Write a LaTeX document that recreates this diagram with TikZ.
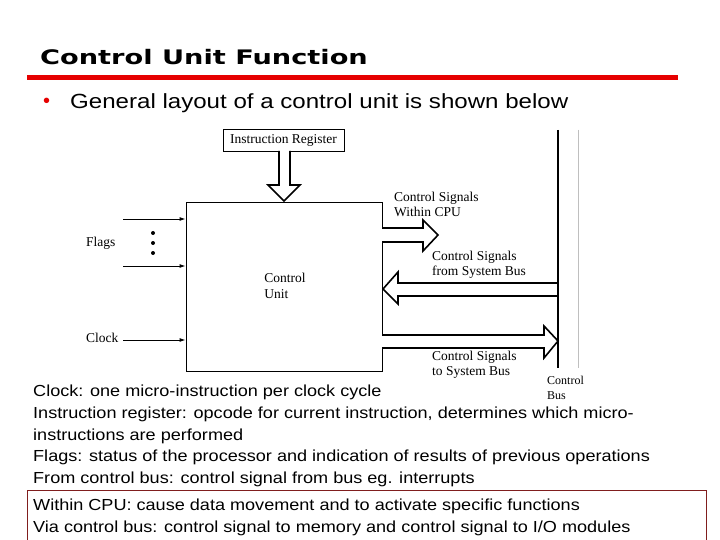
\documentclass[tikz,border=0pt]{standalone}
\usepackage{fontspec}
\usepackage{graphicx}
\setmainfont{Liberation Serif}
\newfontfamily\bodyf{Liberation Sans}
\newfontfamily\titlef{DejaVu Sans}
\usetikzlibrary{arrows.meta}
\definecolor{redline}{RGB}{230,0,0}
\definecolor{boxred}{RGB}{128,30,30}
\newcommand{\bx}[1]{\scalebox{1.13}[1]{#1}}
\tikzset{
  dlab/.style={font=\fontsize{13.5}{15}\selectfont, anchor=west, align=left, inner sep=0},
  lab2/.style={font=\fontsize{13.5}{15}\selectfont, anchor=west, align=left, inner sep=0},
  body/.style={font=\bodyf\fontsize{16}{21.6}\selectfont, anchor=west, inner sep=0},
  hollow/.style={draw=black, fill=white, line width=1.6pt, line join=miter},
  inarr/.style={-{Latex[length=6pt,width=4pt]}, line width=0.9pt},
}
\begin{document}
\begin{tikzpicture}[x=1pt,y=-1pt]
\useasboundingbox (0,0) rectangle (720,540);
\fill[white] (0,0) rectangle (720,540);
% title
\node[anchor=west, inner sep=0, font=\titlef\bfseries\fontsize{20}{22}\selectfont] (title) at (40,57) {\scalebox{1.36}[1]{Control Unit Function}};
\fill[redline] (27,75.5) rectangle (678,80.5);
\node[anchor=west, inner sep=0, text=redline, font=\bodyf\fontsize{20}{20}\selectfont] (bul) at (43,103) {•};
\node[anchor=west, inner sep=0, font=\bodyf\fontsize{20.5}{22}\selectfont] (intro) at (70,103) {\scalebox{1.175}[1]{General layout of a control unit is shown below}};
% diagram
\node[draw, line width=0.9pt, minimum width=196pt, minimum height=169pt, inner sep=0] (cu) at (284,286.5) {};
\node[align=left, font=\fontsize{13.5}{16}\selectfont] (cut) at (285,286) {Control\\Unit};
\node[draw, line width=0.9pt, minimum width=121pt, minimum height=22pt, inner sep=0, font=\fontsize{13.5}{15}\selectfont] (ir) at (283.5,140) {Instruction Register};
% hollow down arrow
\draw[hollow] (279,151) -- (279,185) -- (268,185) -- (284,201) -- (300,185) -- (290,185) -- (290,151);
% within CPU
\draw[hollow] (382,228) -- (423,228) -- (423,220) -- (438,235) -- (423,251) -- (423,242) -- (382,242);
% from system bus
\draw[hollow] (558,283) -- (398,283) -- (398,272) -- (383,289) -- (398,304) -- (398,296) -- (558,296);
% to system bus
\draw[hollow] (382,335) -- (544,335) -- (544,326) -- (558,341) -- (544,358) -- (544,348) -- (382,348);
% bus
\draw[line width=1.2pt] (558,130) coordinate (bt) -- (558,368) coordinate (bb);
\draw[line width=0.8pt, black!25] (578,130) coordinate (bt2) -- (578,368) coordinate (bb2);
% inputs
\coordinate (f1) at (123,219); \coordinate (f2) at (123,266); \coordinate (ck) at (123,340);
\draw[inarr] (f1) -- (f1 -| cu.west);
\draw[inarr] (f2) -- (f2 -| cu.west);
\draw[inarr] (ck) -- (ck -| cu.west);
\foreach \yy in {233,243,253} \fill (153,\yy) circle (2pt);
\node[dlab] (fl) at (86,243) {Flags};
\node[dlab] (cl) at (86,338) {Clock};
\node[lab2] (l1) at (394,204) {Control Signals\\Within CPU};
\node[lab2] (l2) at (432,264.5) {Control Signals\\from System Bus};
\node[lab2] (l3) at (432,365) {Control Signals\\to System Bus};
\node[dlab, font=\fontsize{12}{15}\selectfont] (l4) at (547,388) {Control\\Bus};
% body text
\node[body] (t1) at (33,392) {\bx{Clock: one micro-instruction per clock cycle}};
\node[body] (t2) at (33,414) {\bx{Instruction register: opcode for current instruction, determines which micro-}};
\node[body] (t3) at (33,436) {\bx{instructions are performed}};
\node[body] (t4) at (33,457) {\bx{Flags: status of the processor and indication of results of previous operations}};
\node[body] (t5) at (33,479) {\bx{From control bus: control signal from bus eg. interrupts}};
\draw[boxred, line width=1pt] (27,545) -- (27,490) -- (706,490) -- (706,545);
\node[body] (t6) at (33,506) {\bx{Within CPU: cause data movement and to activate specific functions}};
\node[body] (t7) at (33,528) {\bx{Via control bus: control signal to memory and control signal to I/O modules}};
\end{tikzpicture}
\end{document}
